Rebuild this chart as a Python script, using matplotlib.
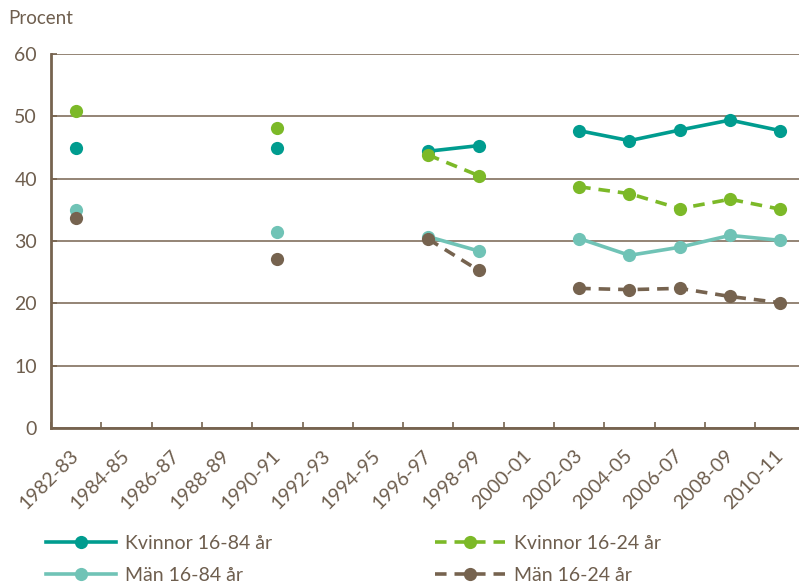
import matplotlib.pyplot as plt
import numpy as np

nan = np.nan

years = ['1982-83', '1984-85', '1986-87', '1988-89', '1990-91', '1992-93',
         '1994-95', '1996-97', '1998-99', '2000-01', '2002-03', '2004-05',
         '2006-07', '2008-09', '2010-11']

kvinnor_16_84 = [45.0, nan, nan, nan, 45.0, nan, nan, 44.4, 45.3, nan,
                 47.7, 46.1, 47.8, 49.4, 47.7]
man_16_84 = [35.0, nan, nan, nan, 31.4, nan, nan, 30.7, 28.4, nan,
             30.4, 27.7, 29.0, 30.9, 30.1]
kvinnor_16_24 = [50.9, nan, nan, nan, 48.1, nan, nan, 43.8, 40.5, nan,
                 38.7, 37.6, 35.2, 36.7, 35.1]
man_16_24 = [33.7, nan, nan, nan, 27.1, nan, nan, 30.3, 25.3, nan,
             22.4, 22.2, 22.4, 21.1, 20.1]

teal = '#009C8F'
lightteal = '#70C3B6'
green = '#7CB928'
brown = '#76634F'
textc = '#6E5E4E'

plt.rcParams['font.family'] = ['Lato', 'DejaVu Sans']

fig = plt.figure(figsize=(7.99, 5.84), dpi=100)
ax = fig.add_axes([51 / 799, 156 / 584, 754.5 / 799, 374 / 584])

x = np.arange(len(years))
series = [
    (kvinnor_16_84, 'Kvinnor 16-84 år', teal, '-'),
    (man_16_84, 'Män 16-84 år', lightteal, '-'),
    (kvinnor_16_24, 'Kvinnor 16-24 år', green, '--'),
    (man_16_24, 'Män 16-24 år', brown, '--'),
]
handles = []
for vals, name, col, ls in series:
    h, = ax.plot(x, vals, color=col, lw=2.6, ls=ls, marker='o', markersize=9.5,
                 markeredgewidth=0, label=name, zorder=3)
    if ls == '--':
        h.set_dashes((3.2, 2.2))
    handles.append(h)

ax.set_xlim(-0.5, len(years) - 0.5)
ax.set_ylim(0, 60)
ax.set_yticks(range(0, 61, 10))
ax.grid(axis='y', color=brown, lw=1.1, zorder=1)
ax.set_axisbelow(True)

ax.set_xticks(x)
ax.set_xticklabels(years, rotation=45, ha='right', va='center',
                   rotation_mode='anchor')
ax.set_xticks(np.arange(-0.5, len(years)), minor=True)
ax.tick_params(axis='x', which='major', length=0, pad=18, labelsize=14,
               labelcolor=textc)
ax.tick_params(axis='x', which='minor', direction='in', length=4.5,
               width=1.2, color=brown)
ax.tick_params(axis='y', direction='in', length=4.5, width=1.2, color=brown,
               labelsize=14, labelcolor=textc, pad=10)

for s in ['top', 'right']:
    ax.spines[s].set_visible(False)
for s in ['left', 'bottom']:
    ax.spines[s].set_color(brown)
    ax.spines[s].set_linewidth(2)

fig.text(8 / 799, 1 - 18 / 584, 'Procent', fontsize=13.5, color=textc,
         va='center', ha='left')

leg = fig.legend(handles=handles, loc='upper left', ncol=2,
                 bbox_to_anchor=(46 / 799, 1 - 535 / 584), frameon=False,
                 fontsize=14, handlelength=3.6, handletextpad=0.45,
                 columnspacing=8.4, labelspacing=0.75, borderpad=0,
                 borderaxespad=0, numpoints=1)
for t in leg.get_texts():
    t.set_color(textc)

fig.savefig('out.png', dpi=100)
